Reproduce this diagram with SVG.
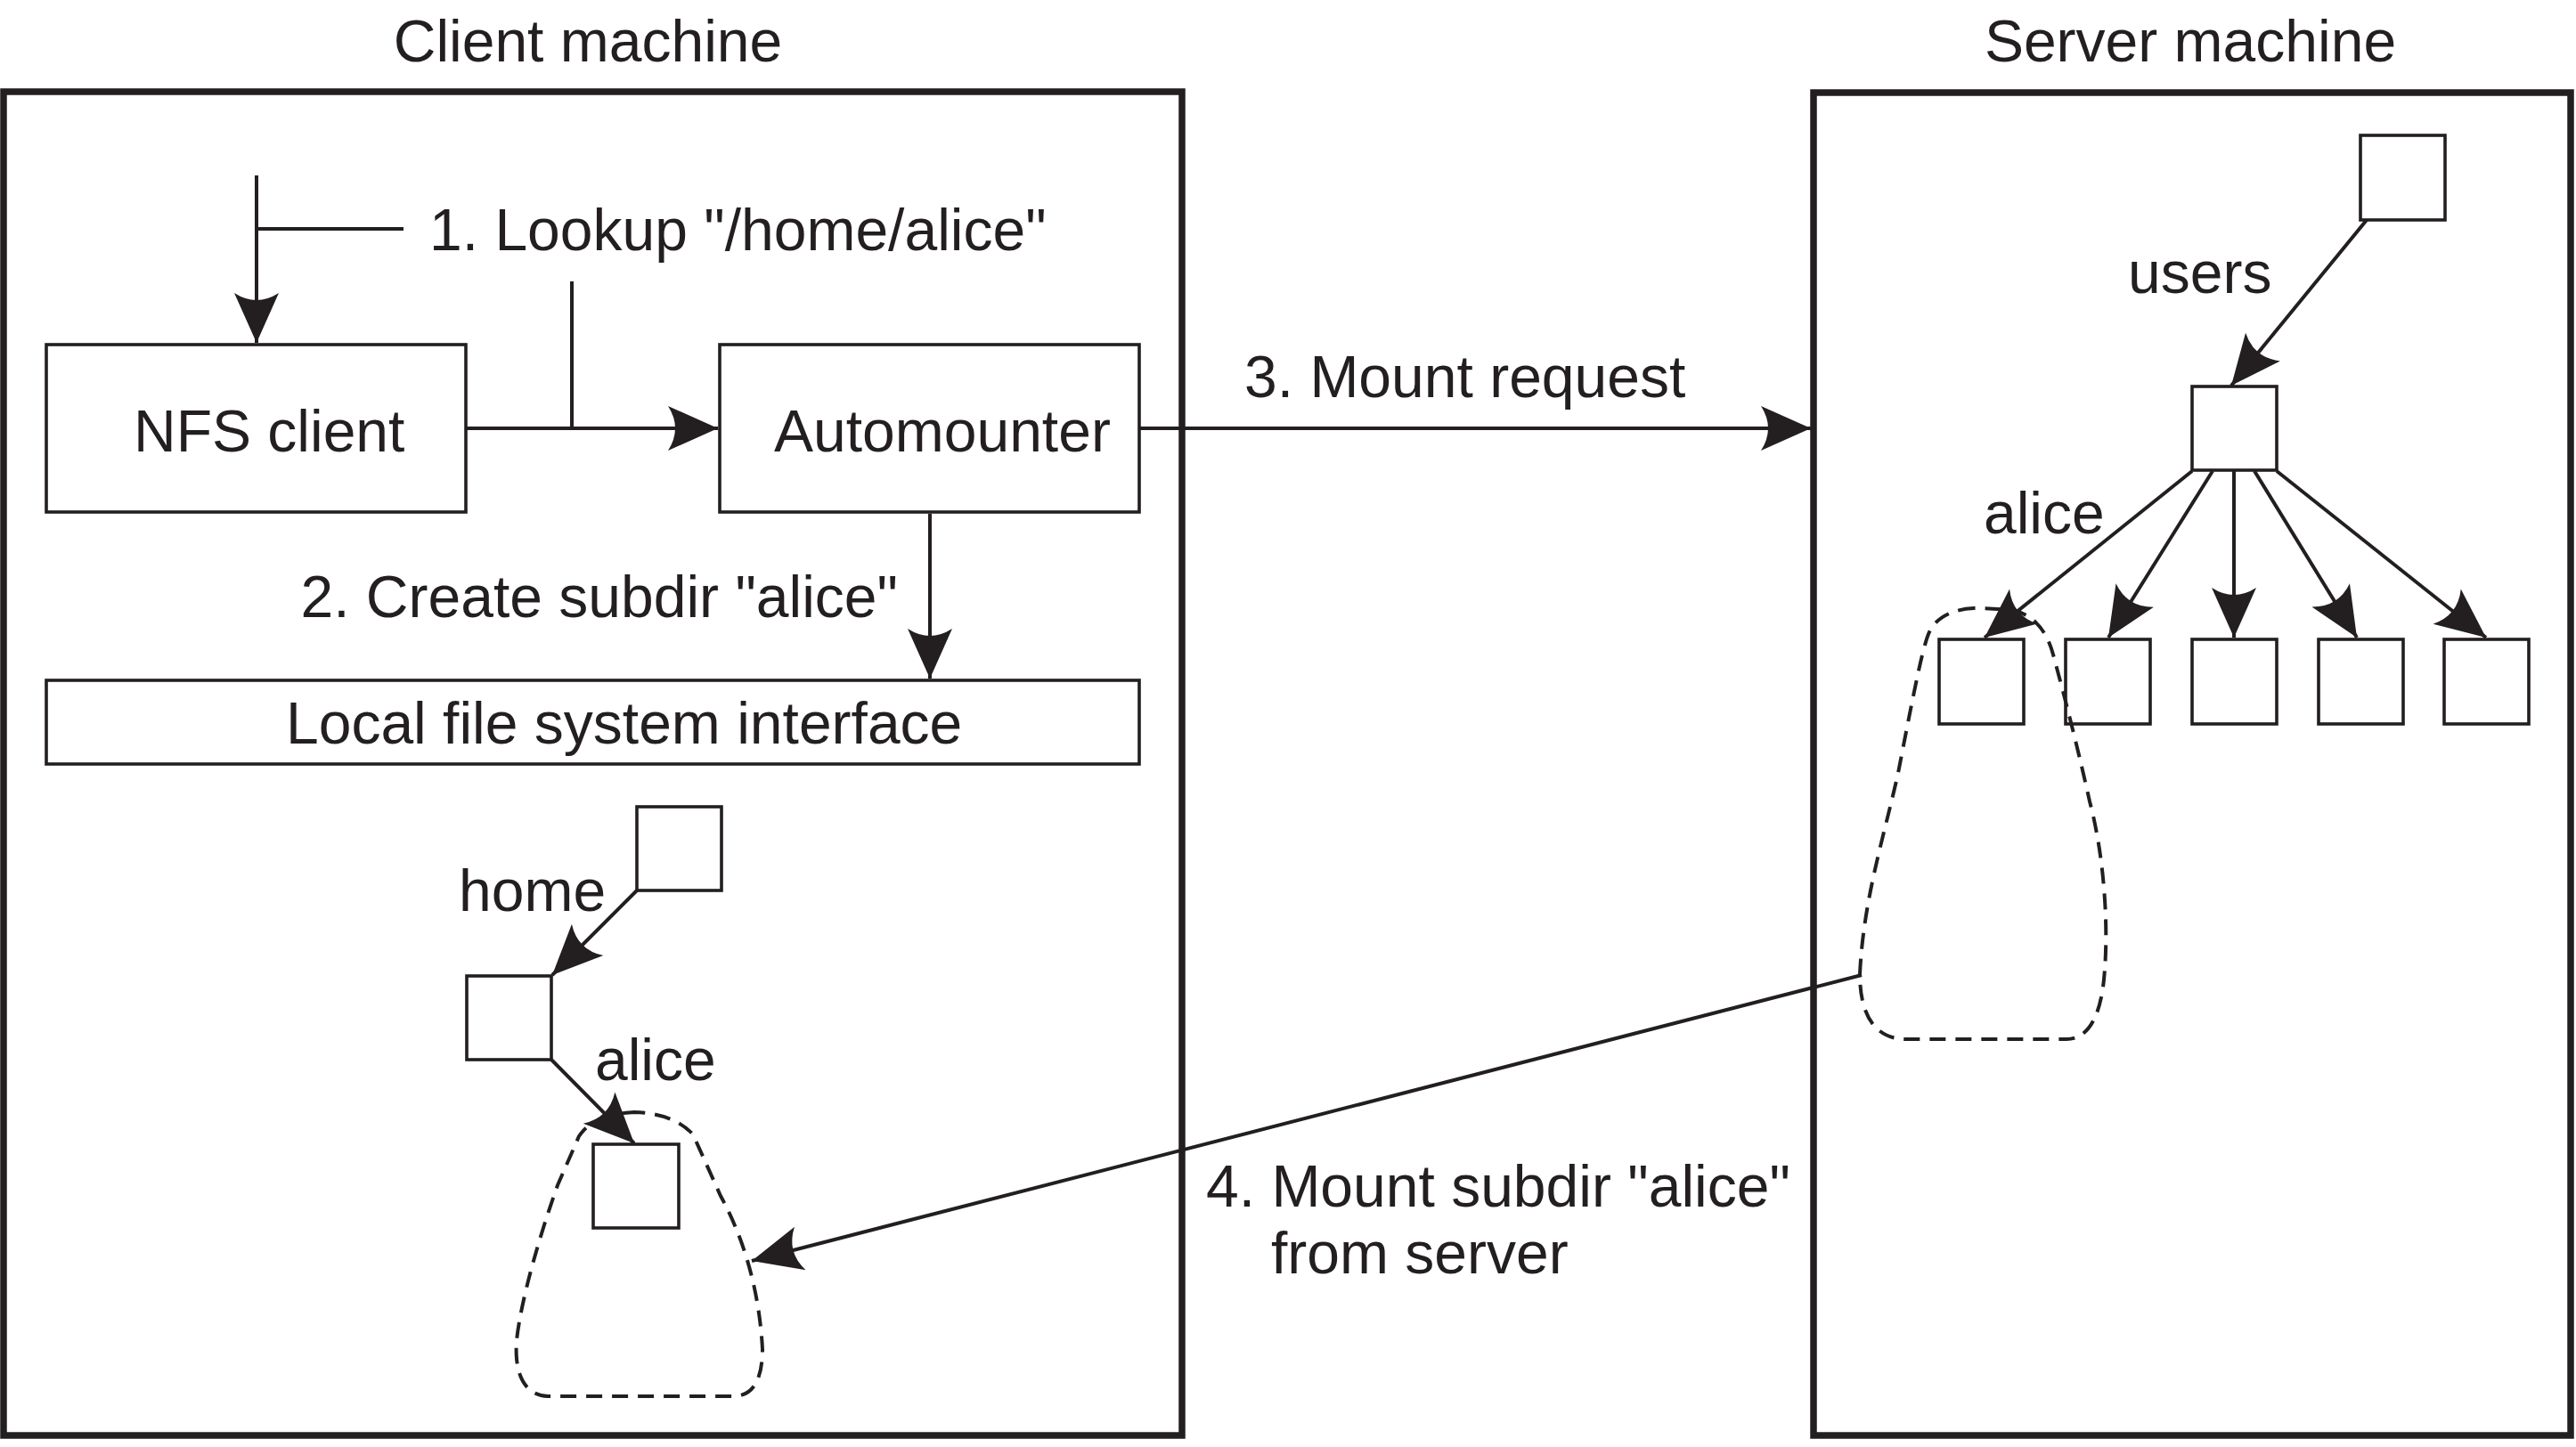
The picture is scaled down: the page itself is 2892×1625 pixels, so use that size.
<svg xmlns="http://www.w3.org/2000/svg" width="2892" height="1625" viewBox="0 0 2892 1625">
<style>
text{font-family:"Liberation Sans",Arial,Helvetica,sans-serif;font-size:66px;fill:#231f20}
.frame{fill:none;stroke:#231f20;stroke-width:7.5}
.box{fill:#fff;stroke:#231f20;stroke-width:3.6}
.conn{fill:none;stroke:#231f20;stroke-width:4}
.arr{marker-end:url(#ah)}
.blob{fill:none;stroke:#231f20;stroke-width:4;stroke-dasharray:18 11}
</style>
<defs>
<marker id="ah" markerUnits="userSpaceOnUse" viewBox="-60 -30 64 60" refX="0" refY="0" markerWidth="64" markerHeight="60" orient="auto">
<path d="M0,0 L-56,-25 Q-40,0 -56,25 Z" fill="#231f20"/>
</marker>
</defs>
<rect width="2892" height="1625" fill="#fff"/>
<g id="client-machine">
<rect class="frame" x="4" y="103" width="1323" height="1509"/>
<text x="660" y="69" text-anchor="middle">Client machine</text>
</g>
<g id="server-machine">
<rect class="frame" x="2036" y="104" width="850" height="1508"/>
<text x="2459" y="69" text-anchor="middle">Server machine</text>
</g>
<g id="nfs-client">
<rect class="box" x="52" y="387" width="471" height="188"/>
<text x="150" y="507">NFS client</text>
</g>
<g id="automounter">
<rect class="box" x="808" y="387" width="471" height="188"/>
<text x="869" y="507">Automounter</text>
</g>
<g id="local-fs">
<rect class="box" x="52" y="764" width="1227" height="94"/>
<text x="321" y="835">Local file system interface</text>
</g>
<g id="client-root"><rect class="box" x="715" y="906" width="95" height="94"/></g>
<g id="client-home"><rect class="box" x="524" y="1096" width="95" height="94"/></g>
<g id="client-alice"><rect class="box" x="666" y="1285" width="96" height="94"/></g>
<path id="client-blob" class="blob" d="M712,1249 C685,1250 662,1258 650,1276 L626,1331 C605,1390 585,1460 580,1505 C577,1545 590,1567 615,1568 L825,1568 C845,1567 856,1550 856,1515 C853,1460 840,1400 809,1343 L778,1274 C765,1260 745,1250 712,1249 Z"/>
<g id="server-root"><rect class="box" x="2650" y="152" width="95" height="95"/></g>
<g id="server-users"><rect class="box" x="2461" y="434" width="95" height="94"/></g>
<g id="server-child1"><rect class="box" x="2177" y="718" width="95" height="95"/></g>
<g id="server-child2"><rect class="box" x="2319" y="718" width="95" height="95"/></g>
<g id="server-child3"><rect class="box" x="2461" y="718" width="95" height="95"/></g>
<g id="server-child4"><rect class="box" x="2603" y="718" width="95" height="95"/></g>
<g id="server-child5"><rect class="box" x="2744" y="718" width="95" height="95"/></g>
<path id="server-blob" class="blob" d="M2216,683 C2192,684 2172,694 2165,712 C2158,730 2150,770 2131,868 C2115,940 2092,1010 2088,1094 C2088,1140 2105,1167 2140,1167 L2320,1167 C2345,1167 2358,1140 2362,1100 C2368,1040 2362,960 2346,900 C2335,850 2320,790 2305,735 C2297,705 2280,690 2262,686 C2248,684 2232,683 2216,683 Z"/>
<g id="labels">
<text x="482" y="281">1. Lookup "/home/alice"</text>
<text x="1008" y="693" text-anchor="end">2. Create subdir "alice"</text>
<text x="1397" y="446">3. Mount request</text>
<text x="1354" y="1355">4. Mount subdir "alice"</text>
<text x="1427" y="1430">from server</text>
<text x="2389" y="329">users</text>
<text x="2227" y="599">alice</text>
<text x="515" y="1023">home</text>
<text x="668" y="1213">alice</text>
</g>
<g id="connectors">
<line class="conn arr" x1="288" y1="197" x2="288" y2="385"/>
<line class="conn" x1="288" y1="257" x2="453" y2="257"/>
<line class="conn arr" x1="524" y1="481" x2="806" y2="481"/>
<line class="conn" x1="642" y1="316" x2="642" y2="481"/>
<line class="conn arr" x1="1280" y1="481" x2="2033" y2="481"/>
<line class="conn arr" x1="1044" y1="577" x2="1044" y2="762"/>
<line class="conn arr" x1="2657" y1="247" x2="2505" y2="433"/>
<line class="conn arr" x1="2461" y1="529" x2="2228" y2="716"/>
<line class="conn arr" x1="2484" y1="529" x2="2367" y2="716"/>
<line class="conn arr" x1="2508" y1="529" x2="2508" y2="716"/>
<line class="conn arr" x1="2531" y1="529" x2="2646" y2="716"/>
<line class="conn arr" x1="2556" y1="529" x2="2791" y2="716"/>
<line class="conn arr" x1="715" y1="1000" x2="620" y2="1095"/>
<line class="conn arr" x1="619" y1="1190" x2="712" y2="1284"/>
<line class="conn arr" x1="2090" y1="1095" x2="844" y2="1416"/>
</g>
</svg>
